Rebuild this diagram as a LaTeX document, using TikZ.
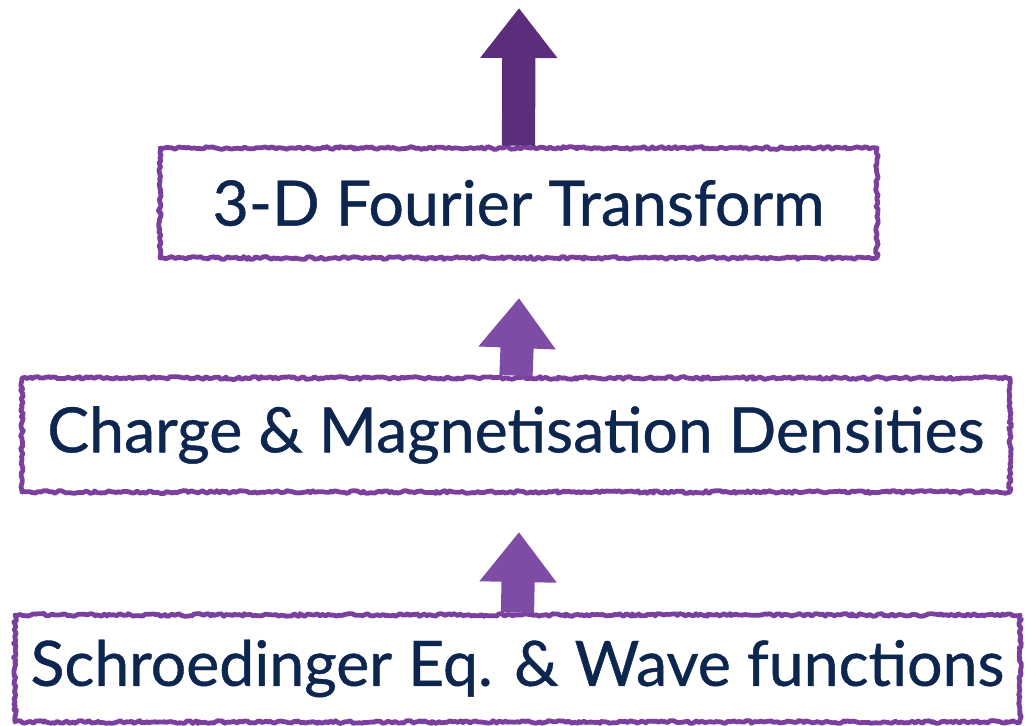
\documentclass[tikz,border=0pt]{standalone}
\usepackage{fontspec}
\setmainfont{Lato}[FakeBold=0.7]
\usetikzlibrary{arrows.meta,decorations.pathmorphing}
\definecolor{boxpurple}{HTML}{7B3F9E}
\definecolor{textnavy}{HTML}{0D2650}
\definecolor{arrowdark}{HTML}{5C2D7A}
\definecolor{arrowlight}{HTML}{7E4BA5}
\begin{document}
\pgfmathsetseed{7}
\begin{tikzpicture}[x=0.025cm, y=0.025cm,
    stepbox/.style = {shape=rectangle, inner sep=0pt,
      draw=boxpurple, line width=3.4pt, line join=round, text=textnavy,
      decorate, decoration={random steps, segment length=1.8pt, amplitude=1pt},
      font=\fontsize{44.5}{50}\selectfont},
    uparrow/.style = {line width=0.83cm,
      -{Triangle[length=1.25cm, width=1.85cm]}}]
  \useasboundingbox (0,0) rectangle (1026,725);
  \node[stepbox, minimum width=717*0.025cm, minimum height=110*0.025cm] (fourier) at (518.5,522) {3-D Fourier Transform};
  \node[stepbox, minimum width=988*0.025cm, minimum height=114*0.025cm] (density) at (516,290) {Charge \& Magnetisation Densities};
  \node[stepbox, minimum width=1005*0.025cm, minimum height=107*0.025cm] (schroed) at (517.5,56.5) {Schroedinger Eq. \& Wave functions};
  \coordinate (top) at (519,717);
  \coordinate (midtip) at (519,427);
  \coordinate (lowtip) at (519,193);
  \draw[uparrow, draw=arrowdark, fill=arrowdark] (fourier.north) -- (top);
  \draw[uparrow, draw=arrowlight, fill=arrowlight] (density.north) -- (midtip);
  \draw[uparrow, draw=arrowlight, fill=arrowlight] (schroed.north) -- (lowtip);
\end{tikzpicture}
\end{document}
